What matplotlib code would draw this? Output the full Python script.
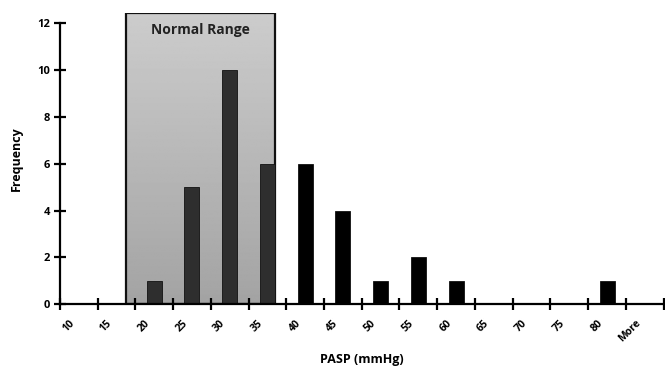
import numpy as np
import matplotlib.pyplot as plt
from matplotlib.transforms import ScaledTranslation

categories = ['10', '15', '20', '25', '30', '35', '40', '45', '50', '55',
              '60', '65', '70', '75', '80', 'More']
frequency = [0, 0, 1, 5, 10, 6, 6, 4, 1, 2, 1, 0, 0, 0, 1, 0]
normal = ['20', '25', '30', '35']

plt.rcParams['font.family'] = ['Open Sans', 'DejaVu Sans']
plt.rcParams['font.weight'] = 'bold'

fig = plt.figure(figsize=(6.65, 3.69), dpi=100)
ax = fig.add_axes([0.090, 0.176, 0.908, 0.789])

x = np.arange(len(categories))
colors = ['#2e2e2e' if c in normal else '#000000' for c in categories]

# normal range box with vertical gradient
x0, x1 = 1.24, 5.2
top = 12.43
grad = np.linspace(0.64, 0.80, 256).reshape(-1, 1)
ax.imshow(grad, extent=[x0, x1, 0, top], origin='lower', cmap='gray',
          vmin=0, vmax=1, aspect='auto', zorder=1)
ax.add_patch(plt.Rectangle((x0, 0), x1 - x0, top, fill=False,
                           edgecolor='#111111', linewidth=1.6, zorder=2))
ax.text((x0 + x1) / 2, 11.7, 'Normal Range', ha='center', va='center',
        fontsize=10, fontweight='bold', color='#222222', zorder=3)

ax.bar(x, frequency, width=0.4, color=colors, edgecolor='#111111',
       linewidth=0.6, zorder=3)

ax.set_xlim(-0.5, len(categories) - 0.5)
ax.set_ylim(0, 12.45)

for s in ['top', 'right']:
    ax.spines[s].set_visible(False)
ax.spines['left'].set_bounds(0, 12)
ax.spines['left'].set_linewidth(1.6)
ax.spines['bottom'].set_linewidth(1.6)
ax.spines['bottom'].set_zorder(4)

ax.set_yticks(range(0, 13, 2))
ax.tick_params(axis='y', direction='inout', length=8, width=1.6,
               labelsize=8, pad=3)

ax.set_xticks(np.arange(-0.5, len(categories) + 0.5, 1))
ax.set_xticklabels([])
ax.tick_params(axis='x', which='major', direction='inout', length=8,
               width=1.6)
ax.set_xticks(x, minor=True)
ax.set_xticklabels(categories, minor=True, rotation=45, ha='right',
                   rotation_mode='anchor', fontsize=7.5)
ax.tick_params(axis='x', which='minor', length=0, pad=10)
off = ScaledTranslation(-10 / 100, 0, fig.dpi_scale_trans)
for lab in ax.get_xticklabels(minor=True):
    lab.set_transform(lab.get_transform() + off)

ax.set_ylabel('Frequency', fontsize=9, fontweight='bold', labelpad=10)
ax.set_xlabel('PASP (mmHg)', fontsize=9, fontweight='bold', labelpad=6)

fig.savefig('out.png', dpi=100)
